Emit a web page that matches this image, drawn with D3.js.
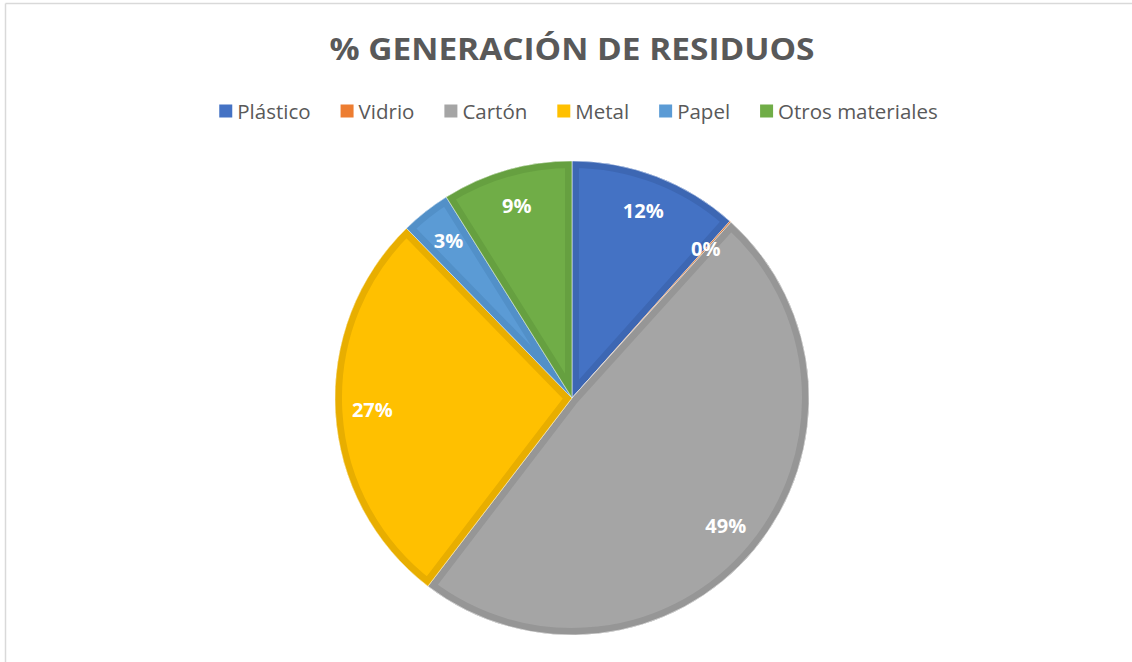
<!DOCTYPE html>
<html>
<head>
<meta charset="utf-8">
<script src="https://cdn.jsdelivr.net/npm/d3@7"></script>
<style>
  body { margin: 0; background: #fff; }
  svg { display: block; font-family: "Open Sans", "Noto Sans", sans-serif; }
</style>
</head>
<body>
<script>
// data (percent of total)
const categories = ["Plástico", "Vidrio", "Cartón", "Metal", "Papel", "Otros materiales"];
const values = [11.6, 0.1, 48.7, 27.3, 3.4, 8.9];
const colors = ["#4472C4", "#ED7D31", "#A5A5A5", "#FFC000", "#5B9BD5", "#70AD47"];
const edgeColors = ["#3D67B3", "#D6712C", "#969696", "#E8AE00", "#5290C8", "#66A040"];

const w = 1132, h = 662;
const cx = 572, cy = 398, r = 237;

const dataset = categories.map((c, i) => ({ name: c, value: values[i], color: colors[i], edge: edgeColors[i] }));
const total = d3.sum(values);

const svg = d3.select("body").append("svg")
  .attr("width", w)
  .attr("height", h);

// chart frame (only top and left show)
svg.append("line").attr("x1", 5.5).attr("y1", 3.5).attr("x2", w).attr("y2", 3.5)
  .attr("stroke", "#d9d9d9").attr("stroke-width", 1.5);
svg.append("line").attr("x1", 5.5).attr("y1", 3.5).attr("x2", 5.5).attr("y2", h)
  .attr("stroke", "#d9d9d9").attr("stroke-width", 1.5);

svg.append("text")
  .attr("x", cx)
  .attr("y", 60)
  .attr("text-anchor", "middle")
  .attr("fill", "#595959")
  .style("font-size", "30px")
  .style("font-weight", "bold")
  .attr("textLength", 485)
  .attr("lengthAdjust", "spacingAndGlyphs")
  .text("% GENERACIÓN DE RESIDUOS");

// legend
const gap = 30;
const legend = svg.append("g");
let lx = 0;
dataset.forEach((d) => {
  const item = legend.append("g").attr("transform", "translate(" + lx + ",0)");
  item.append("rect").attr("x", 0).attr("y", -6.5).attr("width", 13).attr("height", 13).attr("fill", d.color);
  const t = item.append("text")
    .attr("x", 18)
    .attr("y", 7.5)
    .attr("fill", "#595959")
    .style("font-size", "20.5px")
    .text(d.name);
  lx += 18 + t.node().getComputedTextLength() + gap;
});
const legendW = lx - gap;
legend.attr("transform", "translate(" + (578.5 - legendW / 2) + ",111)");

// pie
const pie = d3.pie().sort(null).value(d => d.value);
const arc = d3.arc().innerRadius(0).outerRadius(r);
const labelArc = d3.arc().innerRadius(200).outerRadius(200);
const arcs = pie(dataset);

const g = svg.append("g").attr("transform", "translate(" + cx + "," + cy + ")");
const defs = svg.append("defs");

arcs.forEach((a, i) => {
  defs.append("clipPath").attr("id", "clip" + i)
    .append("path").attr("d", arc(a));
});

const slices = g.selectAll("g.slice")
  .data(arcs)
  .enter()
  .append("g")
    .attr("class", "slice");

slices.append("path")
  .attr("d", arc)
  .attr("fill", d => d.data.color);

// darker inner edge like the Excel bevel
slices.append("path")
  .attr("d", arc)
  .attr("fill", "none")
  .attr("stroke", d => d.data.edge)
  .attr("stroke-width", 14)
  .attr("stroke-linejoin", "miter")
  .attr("clip-path", (d, i) => "url(#clip" + i + ")");

slices.append("path")
  .attr("d", arc)
  .attr("fill", "none")
  .attr("stroke", "#ffffff")
  .attr("stroke-opacity", 0.5)
  .attr("stroke-width", 1);

g.selectAll("text.lbl")
  .data(arcs)
  .enter()
  .append("text")
    .attr("class", "lbl")
    .attr("transform", d => "translate(" + labelArc.centroid(d) + ")")
    .attr("text-anchor", "middle")
    .attr("dy", "0.35em")
    .attr("fill", "#ffffff")
    .style("font-size", "20px")
    .style("font-weight", "bold")
    .text(d => Math.round(d.data.value / total * 100) + "%");
</script>
</body>
</html>
